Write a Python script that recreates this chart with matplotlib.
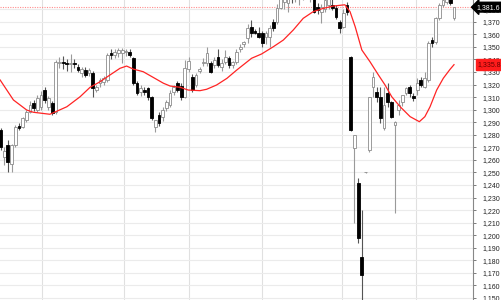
import numpy as np
import matplotlib
matplotlib.use("Agg")
import matplotlib.pyplot as plt
from matplotlib.ticker import FuncFormatter
import matplotlib.transforms as mtransforms

plt.rcParams['font.family'] = ['Liberation Sans', 'DejaVu Sans']

# daily candles (oldest first)
opens = [1283.8, 1262.0, 1272.0, 1257.0, 1271.8, 1287.0, 1286.0, 1292.0, 1298.0, 1305.3, 1300.0, 1302.0, 1315.6, 1302.0, 1305.3, 1298.0,
         1337.0, 1338.0, 1337.0, 1336.0, 1337.0, 1334.0, 1329.0, 1331.6, 1329.0,
         1329.0, 1316.0, 1321.0, 1322.0, 1323.6, 1345.0, 1343.5, 1345.0, 1345.0, 1345.5, 1345.9, 1341.0, 1321.0, 1314.0, 1315.6, 1317.0, 1310.0, 1286.2, 1295.7, 1294.0, 1301.0, 1303.7, 1314.0, 1321.0,
         1318.8, 1310.0, 1332.0, 1326.0, 1319.6, 1331.0, 1337.0, 1337.0, 1337.0, 1335.5, 1342.0, 1334.0, 1338.0, 1341.0, 1335.5, 1337.9, 1348.0, 1352.0, 1357.0, 1366.0, 1362.5, 1361.0, 1361.0, 1357.8, 1357.8, 1369.8, 1369.8, 1381.0,
         1386.0, 1385.0, 1394.0, 1389.0, 1388.0, 1390.0, 1396.0, 1389.0, 1392.0, 1382.0, 1378.0, 1380.0, 1383.0, 1383.5, 1381.0, 1369.8, 1366.0, 1383.3,
         1341.9, 1269.4, 1241.6, 1182.6, 1250.0, 1267.9, 1318.0, 1314.0, 1310.1, 1285.4, 1313.2, 1306.1, 1288.0, 1299.7, 1306.1, 1313.2, 1318.0, 1310.5, 1315.6, 1323.6, 1318.0, 1323.6, 1355.4, 1353.8, 1372.9, 1383.3, 1386.0, 1392.0, 1372.9]
highs = [1285.4, 1270.0, 1276.0, 1273.0, 1288.0, 1289.0, 1294.0, 1300.0, 1307.0, 1308.0, 1312.0, 1315.0, 1318.0, 1311.0, 1307.0, 1339.5,
         1342.0, 1343.0, 1340.0, 1344.0, 1340.0, 1336.0, 1334.0, 1334.0, 1333.0,
         1331.0, 1320.0, 1325.0, 1327.0, 1345.0, 1348.0, 1348.0, 1349.0, 1349.0, 1348.0, 1348.0, 1342.0, 1323.0, 1320.0, 1318.0, 1318.0, 1311.0, 1292.0, 1298.0, 1302.0, 1308.0, 1316.0, 1320.0, 1323.0,
         1321.0, 1339.5, 1342.0, 1328.0, 1329.0, 1334.0, 1341.0, 1350.0, 1339.0, 1342.0, 1348.0, 1340.0, 1347.5, 1343.0, 1339.0, 1348.0, 1352.0, 1355.0, 1368.0, 1371.0, 1364.0, 1366.0, 1362.5, 1363.0, 1367.0, 1372.0, 1384.0, 1392.0,
         1396.0, 1395.0, 1397.0, 1398.0, 1397.0, 1399.0, 1399.0, 1396.0, 1396.0, 1385.0, 1384.0, 1390.0, 1392.0, 1390.0, 1383.0, 1371.0, 1380.0, 1386.0,
         1342.5, 1280.0, 1245.6, 1220.0, 1250.5, 1310.0, 1330.0, 1318.0, 1318.0, 1318.0, 1321.0, 1307.0, 1291.0, 1307.7, 1310.0, 1318.0, 1320.0, 1313.0, 1325.0, 1326.0, 1330.0, 1355.0, 1358.0, 1374.0, 1385.0, 1393.0, 1395.0, 1394.0, 1381.7]
lows = [1268.0, 1256.0, 1250.4, 1250.5, 1270.0, 1284.0, 1285.0, 1290.0, 1297.0, 1299.0, 1298.0, 1300.0, 1305.0, 1300.0, 1296.0, 1296.5,
        1333.0, 1332.0, 1331.0, 1330.0, 1333.0, 1330.0, 1326.0, 1326.0, 1327.0,
        1310.0, 1314.0, 1318.0, 1320.0, 1322.0, 1340.0, 1341.0, 1342.0, 1337.0, 1343.0, 1342.0, 1320.0, 1312.0, 1311.0, 1312.0, 1308.0, 1292.0, 1282.2, 1287.0, 1291.0, 1299.0, 1302.0, 1312.0, 1314.0,
        1308.0, 1309.0, 1330.0, 1314.0, 1318.0, 1329.0, 1335.0, 1335.0, 1329.0, 1333.0, 1334.0, 1331.0, 1336.0, 1333.0, 1333.0, 1336.0, 1346.0, 1350.0, 1353.0, 1358.0, 1360.0, 1357.0, 1350.0, 1352.0, 1349.9, 1363.0, 1368.0, 1380.0,
        1380.0, 1377.7, 1385.0, 1386.0, 1383.0, 1387.0, 1388.0, 1386.0, 1377.0, 1376.0, 1369.0, 1378.0, 1380.0, 1379.0, 1372.0, 1361.0, 1365.0, 1375.0,
        1283.0, 1209.7, 1193.8, 1140.0, 1249.5, 1266.0, 1310.0, 1306.0, 1289.4, 1283.8, 1302.0, 1293.0, 1217.7, 1295.7, 1303.0, 1312.0, 1310.0, 1307.0, 1312.0, 1318.0, 1317.0, 1322.0, 1349.9, 1352.0, 1371.0, 1382.0, 1384.0, 1383.0, 1371.4]
closes = [1270.2, 1267.0, 1258.3, 1272.0, 1286.2, 1285.4, 1293.3, 1298.0, 1303.7, 1301.3, 1309.3, 1311.7, 1307.7, 1309.3, 1297.3, 1338.0,
          1338.0, 1337.0, 1336.0, 1337.0, 1336.5, 1331.6, 1332.5, 1327.6, 1331.5,
          1317.0, 1318.0, 1323.6, 1325.0, 1343.5, 1343.5, 1346.0, 1347.5, 1347.5, 1347.0, 1343.5, 1321.2, 1313.2, 1317.0, 1314.0, 1310.0, 1293.3, 1291.8, 1289.4, 1299.7, 1306.0, 1313.5, 1318.0, 1315.6,
          1310.0, 1333.0, 1339.0, 1315.6, 1327.6, 1332.0, 1338.0, 1345.0, 1330.0, 1339.5, 1335.5, 1337.5, 1342.0, 1335.5, 1337.9, 1345.9, 1350.0, 1354.0, 1365.0, 1361.0, 1361.0, 1358.0, 1353.0, 1361.0, 1365.0, 1365.0, 1380.9, 1388.0,
          1394.0, 1392.0, 1390.0, 1396.0, 1394.0, 1397.0, 1390.0, 1394.0, 1378.0, 1379.3, 1382.0, 1387.0, 1389.0, 1381.0, 1373.7, 1365.0, 1376.9, 1377.7,
          1283.8, 1279.8, 1197.8, 1168.3, 1250.2, 1310.1, 1326.0, 1310.1, 1293.3, 1303.7, 1306.1, 1294.1, 1290.2, 1303.7, 1311.7, 1317.2, 1313.2, 1309.5, 1321.2, 1319.6, 1325.2, 1353.0, 1353.0, 1372.9, 1383.3, 1387.5, 1392.0, 1384.9, 1381.6]

# moving average (red line), read at points along the curve (x in candle numbers)
ma_idx = [-0.1, 3.5, 7.1, 8.9, 13.4, 18.0, 21.6, 24.3, 27.0, 29.7, 32.4, 34.2, 36.0, 38.7, 41.4, 44.2, 46.0, 48.7, 50.9, 54.1,
          55.9, 58.6, 61.4, 64.1, 68.1, 70.8, 74.0, 76.7, 79.4, 82.1, 84.8, 87.6, 90.3, 93.4, 94.8, 96.2, 98.0, 100.2, 102.5, 104.3,
          106.1, 108.4, 111.1, 113.6, 115.1, 116.5, 118.3, 120.1, 121.9, 123.0]
ma_val = [1323.6, 1307.7, 1299.7, 1297.9, 1296.3, 1302.3, 1310.3, 1317.8, 1322.2, 1327.6, 1332.9, 1334.7, 1332.3, 1330.2, 1325.7,
          1321.0, 1318.8, 1317.8, 1315.6, 1315.1, 1316.2, 1319.6, 1324.9, 1331.6, 1340.9, 1344.3, 1350.1, 1355.4, 1363.4, 1372.7,
          1378.0, 1380.7, 1382.5, 1383.5, 1378.0, 1366.0, 1347.5, 1338.2, 1327.6, 1319.6, 1310.3, 1302.3, 1294.4, 1290.4, 1294.4,
          1302.3, 1315.6, 1325.0, 1332.0, 1335.8]

last_price = 1381.6
ma_last = 1335.8
month_lines = [11.34, 33.58, 51.04, 70.92, 92.54, 112.69]

o = np.array(opens)
h = np.array(highs)
l = np.array(lows)
c = np.array(closes)
x = np.arange(len(c))
up = c >= o

fig = plt.figure(figsize=(5.01, 3.0), dpi=100)
ax = fig.add_axes([0, 0, 473 / 501, 1])

ax.set_xlim(-0.136, 128.15)
ax.set_ylim(1148.4, 1387.3)

ax.set_yticks(np.arange(1150, 1390, 10))
ax.yaxis.grid(True, color='#ebebeb', lw=0.8)
ax.set_axisbelow(True)
for m in month_lines:
    ax.axvline(m, color='#e0e0e0', lw=0.8, zorder=0)

ax.axhline(last_price, color='#ff8c8c', ls=(0, (1, 1.2)), lw=0.8, zorder=1)

ax.vlines(x[up], l[up], h[up], color='#9a9a9a', lw=0.8, zorder=2)
ax.vlines(x[~up], l[~up], h[~up], color='#555555', lw=0.8, zorder=2)
ax.bar(x[up], np.maximum(c - o, 0.4)[up], bottom=o[up], width=0.75,
       color='white', edgecolor='#8c8c8c', lw=0.6, zorder=3)
ax.bar(x[~up], np.maximum(o - c, 0.4)[~up], bottom=c[~up], width=0.75,
       color='black', edgecolor='black', lw=0.6, zorder=3)

ax.plot(ma_idx, ma_val, color='#ff2424', lw=0.9, zorder=4)

ax.set_xticks([])
ax.yaxis.tick_right()
ax.yaxis.set_major_formatter(FuncFormatter(lambda v, p: f"{v:,.0f}"))
ax.tick_params(axis='y', length=2.5, width=0.6, color='#666666', pad=4.5,
               labelsize=5.0, labelcolor='#222222')
for s in ['top', 'left', 'bottom']:
    ax.spines[s].set_visible(False)
ax.spines['right'].set_color('#888888')
ax.spines['right'].set_linewidth(0.8)

trans = mtransforms.blended_transform_factory(ax.transAxes, ax.transData)
ax.text(1.008, last_price, f"{last_price:,.1f}", transform=trans, ha='left', va='center',
        fontsize=5.0, color='white', zorder=6, clip_on=False,
        bbox=dict(boxstyle='larrow,pad=0.2', fc='black', ec='black'))
ax.text(1.01, ma_last, f"{ma_last:,.1f}", transform=trans, ha='left', va='center',
        fontsize=5.0, color='#6a0000', zorder=6, clip_on=False,
        bbox=dict(boxstyle='square,pad=0.25', fc='#ff1c1c', ec='#ff1c1c'))

plt.savefig("out.png", dpi=100)
